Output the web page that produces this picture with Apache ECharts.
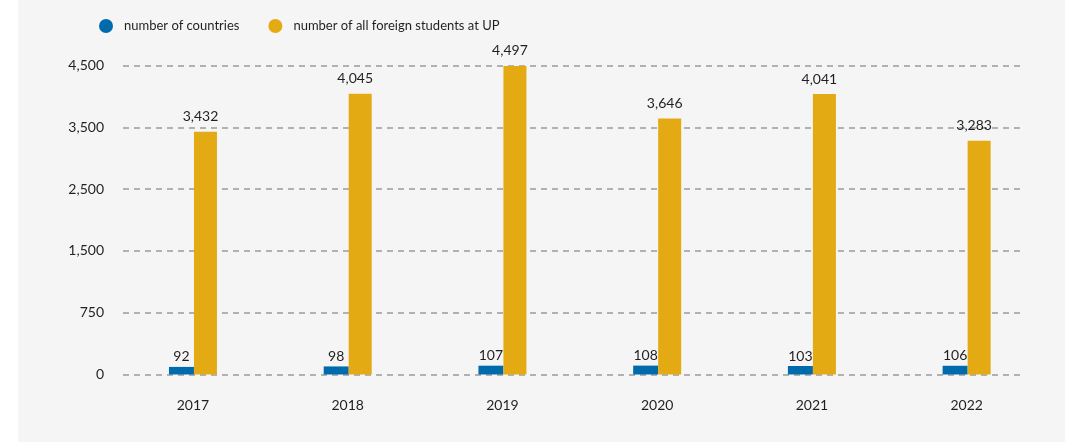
<!DOCTYPE html>
<html>
<head>
<meta charset="utf-8">
<script src="https://cdn.jsdelivr.net/npm/echarts@6/dist/echarts.min.js"></script>
<style>
  body { margin: 0; background: #fff; }
  #chart {
    width: 1065px;
    height: 442px;
    background: linear-gradient(to right, #fff 18px, #f5f5f5 18px);
  }
</style>
</head>
<body>
<div id="chart"></div>
<script>
// data
const years = ['2017', '2018', '2019', '2020', '2021', '2022']
const countries = [92, 98, 107, 108, 103, 106]
const students = [3432, 4045, 4497, 3646, 4041, 3283]
// the y axis in the original has evenly spaced but unevenly valued ticks
const yTicks = [0, 750, 1500, 2500, 3500, 4500]

// piecewise map a raw value to the evenly spaced tick index scale
function toAxis(v) {
  for (let i = 1; i < yTicks.length; i++) {
    if (v <= yTicks[i]) {
      return i - 1 + (v - yTicks[i - 1]) / (yTicks[i] - yTicks[i - 1])
    }
  }
  return yTicks.length - 1
}

const fmt = (n) => n.toLocaleString('en-US')
const font = 'Lato, "Liberation Sans", sans-serif'
const textColor = '#231f20'

const chart = echarts.init(document.getElementById('chart'))
const option = {
  animation: false,
  textStyle: { fontFamily: font, color: textColor },
  legend: {
    left: 94,
    top: 14,
    icon: 'circle',
    itemWidth: 14,
    itemHeight: 14,
    itemGap: 29,
    textStyle: { fontFamily: font, fontSize: 13, color: textColor, padding: [0, 0, 0, 6] },
    data: ['number of countries', 'number of all foreign students at UP']
  },
  grid: [
    // grid only for the dashed lines and y labels
    { left: 123, right: 41, top: 65.7, bottom: 67.5 },
    // grid for the bars
    { left: 115.6, right: 21, top: 65.7, bottom: 67.5 }
  ],
  xAxis: [
    { gridIndex: 0, type: 'value', show: false, min: 0, max: 1 },
    {
      gridIndex: 1,
      type: 'category',
      data: years,
      axisLine: { show: false },
      axisTick: { show: false },
      axisLabel: { fontFamily: font, fontSize: 14, color: textColor, margin: 24 }
    }
  ],
  yAxis: [
    {
      gridIndex: 0,
      type: 'value',
      min: 0,
      max: yTicks.length - 1,
      interval: 1,
      axisLine: { show: false },
      axisTick: { show: false },
      axisLabel: {
        fontFamily: font,
        fontSize: 14,
        color: textColor,
        margin: 19,
        formatter: (v) => fmt(yTicks[Math.round(v)])
      },
      splitLine: { lineStyle: { color: '#9a9a9a', width: 1.5, type: [6, 5] } }
    },
    {
      gridIndex: 1,
      type: 'value',
      min: 0,
      max: yTicks.length - 1,
      show: false,
      splitLine: { show: false }
    }
  ],
  series: [
    {
      name: 'number of countries',
      type: 'bar',
      xAxisIndex: 1,
      yAxisIndex: 1,
      barWidth: 25,
      barGap: 0,
      itemStyle: { color: '#006bac' },
      label: {
        show: true,
        position: 'top',
        distance: 3,
        fontFamily: font,
        fontSize: 14,
        color: textColor,
        formatter: (p) => fmt(p.data.raw)
      },
      data: countries.map((v) => ({ value: toAxis(v), raw: v }))
    },
    {
      name: 'number of all foreign students at UP',
      type: 'bar',
      xAxisIndex: 1,
      yAxisIndex: 1,
      barWidth: 23,
      barGap: 0,
      itemStyle: { color: '#e4aa14' },
      label: {
        show: true,
        position: 'top',
        distance: 8,
        offset: [-5, 0],
        fontFamily: font,
        fontSize: 14,
        color: textColor,
        formatter: (p) => fmt(p.data.raw)
      },
      data: students.map((v) => ({ value: toAxis(v), raw: v }))
    }
  ]
}
chart.setOption(option)
</script>
</body>
</html>
